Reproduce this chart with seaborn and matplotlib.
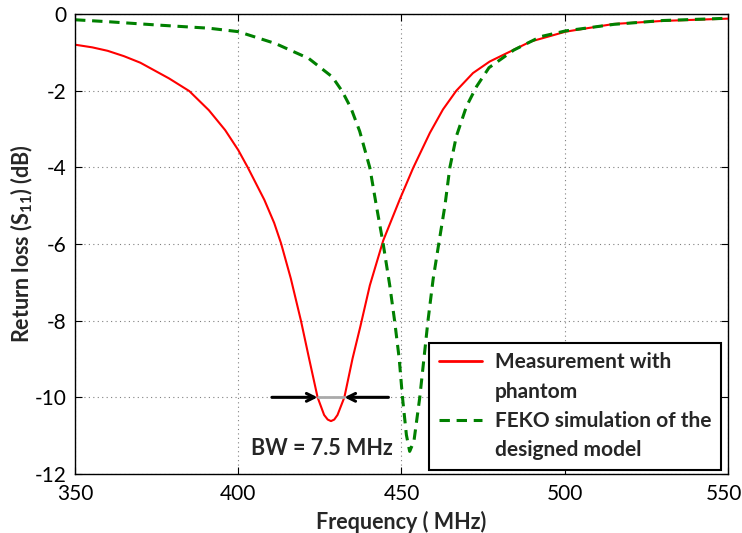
import matplotlib
matplotlib.use("Agg")
import matplotlib.pyplot as plt
import matplotlib.transforms as mtransforms
from matplotlib.lines import Line2D
import seaborn as sns
import pandas as pd

# Measurement with phantom
meas_freq = [350.0, 355.3, 360.0, 365.0, 370.0, 378.8, 385.0, 391.0, 396.0, 400.0,
             402.9, 408.0, 411.0, 413.1, 416.1, 419.2, 421.7, 424.3, 426.3, 427.4,
             428.4, 429.4, 430.4, 432.5, 435.0, 437.4, 440.3, 444.4, 449.5, 453.6,
             458.7, 462.7, 466.8, 471.9, 477.0, 489.5, 500.3, 515.0, 530.0, 550.0]
meas_db = [-0.80, -0.87, -0.96, -1.10, -1.27, -1.68, -2.01, -2.51, -3.03, -3.55,
           -4.00, -4.85, -5.45, -5.98, -6.90, -8.00, -8.99, -10.00, -10.46, -10.58,
           -10.62, -10.58, -10.46, -10.00, -8.99, -8.15, -7.08, -5.91, -4.83, -4.01,
           -3.10, -2.49, -2.00, -1.54, -1.24, -0.72, -0.46, -0.26, -0.18, -0.12]

# FEKO simulation of the designed model
sim_freq = [350.0, 360.0, 375.7, 391.0, 400.0, 411.4, 421.6, 428.8, 431.8, 434.5,
            437.2, 440.3, 442.3, 444.4, 446.4, 447.9, 449.3, 450.3, 451.5, 452.5,
            453.8, 455.6, 457.1, 458.1, 459.7, 461.4, 463.3, 464.8, 466.8, 469.9,
            473.0, 476.8, 484.4, 492.6, 500.3, 515.0, 530.0, 550.0]
sim_db = [-0.15, -0.20, -0.29, -0.37, -0.46, -0.77, -1.16, -1.64, -2.01, -2.45,
          -3.06, -4.01, -5.00, -6.00, -7.08, -8.01, -8.99, -10.00, -10.98, -11.41,
          -11.15, -10.00, -8.81, -8.01, -6.91, -6.00, -5.00, -4.01, -3.19, -2.41,
          -1.89, -1.40, -0.94, -0.59, -0.44, -0.27, -0.17, -0.11]

x_ticks = [350, 400, 450, 500, 550]
y_ticks = [0, -2, -4, -6, -8, -10, -12]
legend_labels = ["Measurement with", "phantom", "FEKO simulation of the", "designed model"]
bw_freqs = [410.3, 424.3, 432.5, 446.0]
bw_level = -10
bw_text = "BW = 7.5 MHz"

sns.set_style("ticks")
plt.rcParams["font.family"] = ["Lato", "DejaVu Sans"]
plt.rcParams["axes.unicode_minus"] = False
plt.rcParams["mathtext.fontset"] = "custom"
plt.rcParams["mathtext.rm"] = "Lato:bold"
plt.rcParams["mathtext.bf"] = "Lato:bold"

fig = plt.figure(figsize=(7.42, 5.33), dpi=100)
ax = fig.add_axes([0.1011, 0.1107, 0.880, 0.863])

df_m = pd.DataFrame({"freq": meas_freq, "db": meas_db})
df_s = pd.DataFrame({"freq": sim_freq, "db": sim_db})

dash = (0, (3.4, 2.2))
sns.lineplot(data=df_m, x="freq", y="db", ax=ax, color="#ff0000", lw=1.5,
             sort=False, estimator=None)
sns.lineplot(data=df_s, x="freq", y="db", ax=ax, color="#008000", lw=2.2,
             linestyle=dash, sort=False, estimator=None)

ax.set_xlim(350, 550)
ax.set_ylim(-12, 0)
ax.set_xticks(x_ticks)
ax.set_yticks(y_ticks)
ax.set_xticklabels([str(v) for v in x_ticks])
ax.set_yticklabels([str(v) for v in y_ticks])
ax.tick_params(direction="in", top=True, right=True, length=5, width=0.8,
               labelsize=15, colors="black")
ax.tick_params(axis="x", pad=7)
ax.tick_params(axis="y", pad=6)
ax.grid(True, linestyle=(0, (1, 3)), color="#808080", lw=0.8)
for s in ax.spines.values():
    s.set_color("black")
    s.set_linewidth(1.0)

# keep the last x tick label inside the figure
last = ax.get_xticklabels()[-1]
last.set_transform(last.get_transform() +
                   mtransforms.ScaledTranslation(-4 / 100, 0, fig.dpi_scale_trans))

ax.set_xlabel("Frequency ( MHz)", fontsize=15.5, fontweight="bold", labelpad=5)
ax.set_ylabel(r"Return loss (S$_{11}$) (dB)", fontsize=15.5, fontweight="bold", labelpad=0)

# Bandwidth annotation
ax.plot([bw_freqs[1], bw_freqs[2]], [bw_level, bw_level], color="#aaaaaa", lw=2, zorder=3)
ax.annotate("", xy=(bw_freqs[1], bw_level), xytext=(bw_freqs[0], bw_level),
            arrowprops=dict(arrowstyle="->", color="black", lw=2.2, mutation_scale=14,
                            shrinkA=0, shrinkB=0), zorder=4)
ax.annotate("", xy=(bw_freqs[2], bw_level), xytext=(bw_freqs[3], bw_level),
            arrowprops=dict(arrowstyle="->", color="black", lw=2.2, mutation_scale=14,
                            shrinkA=0, shrinkB=0), zorder=4)
ax.text(425.7, -11.33, bw_text, fontsize=15.5, fontweight="bold", ha="center", va="center")

handles = [Line2D([], [], color="#ff0000", lw=2),
           Line2D([], [], color="none", lw=0),
           Line2D([], [], color="#008000", lw=2.2, linestyle=dash),
           Line2D([], [], color="none", lw=0)]
leg = ax.legend(handles, legend_labels, loc="lower right", bbox_to_anchor=(0.989, 0.009),
                prop={"weight": "bold", "size": 15}, frameon=True, fancybox=False,
                edgecolor="black", framealpha=1, handlelength=2.1, handletextpad=0.6,
                labelspacing=0.45, borderpad=0.45, borderaxespad=0)
leg.get_frame().set_linewidth(1.5)

fig.savefig("out.png", dpi=100)
